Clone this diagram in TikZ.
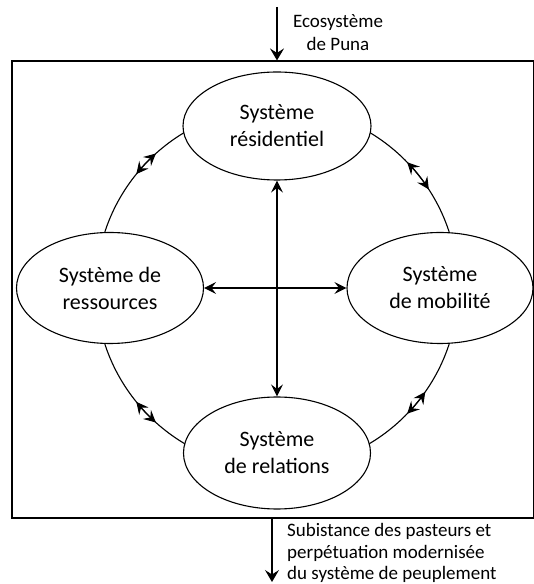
\documentclass[tikz,border=0pt]{standalone}
\usepackage{fontspec}
\setmainfont{Carlito}
\usetikzlibrary{arrows.meta,shapes.geometric,calc}
\tikzset{
  sys/.style={ellipse, draw, fill=white, line width=1.1pt, inner sep=0pt,
    align=center, font=\fontsize{22}{27}\selectfont},
  tip/.style={-{Stealth[length=12pt,width=14pt,inset=4.5pt]}},
  dtip/.style={{Stealth[length=12pt,width=12pt,inset=4.5pt]}-{Stealth[length=12pt,width=12pt,inset=4.5pt]}},
  lbl/.style={font=\fontsize{19}{23}\selectfont, inner sep=0pt},
}
\begin{document}
\begin{tikzpicture}[x=1pt,y=1pt]
\useasboundingbox (0,0) rectangle (534,584);
\node[draw, line width=1.1pt, minimum width=522pt, minimum height=457pt, inner sep=0pt] (frame) at (273,294.5) {};
% circle
\coordinate (c) at (277,296);
\draw[line width=1.1pt] (c) circle (181);
\foreach \a/\b in {132/141, 33/44, 219/228, 316/325}{
  \draw[dtip, line width=1.1pt] ($(c)+(\a:181)$) arc (\a:\b:181);
}
\node[sys, minimum width=188pt, minimum height=108pt] (res) at (277,458) {Système\\résidentiel};
\node[sys, minimum width=187pt, minimum height=111pt] (ress) at (110,296) {Système de\\ressources};
\node[sys, minimum width=186pt, minimum height=111pt] (mob) at (440,296) {Système\\de mobilité};
\node[sys, minimum width=187pt, minimum height=112pt] (rel) at (277,131) {Système\\de relations};
\draw[dtip, line width=1.1pt] (res) -- (rel);
\draw[dtip, line width=1.1pt] (ress) -- (mob);
% top input
\coordinate (inTop) at (277,577);
\draw[tip, line width=1.1pt] (inTop) -- (inTop |- frame.north);
\node[lbl, align=center] (eco) at (338,551) {Ecosystème\\de Puna};
% bottom output
\coordinate (outBot) at (272,2);
\draw[tip, line width=1.1pt] (outBot |- frame.south) -- (outBot);
\node[lbl, align=left, anchor=west, font=\fontsize{19}{21.5}\selectfont] (sub) at (287,31) {Subistance des pasteurs et\\perpétuation modernisée\\du système de peuplement};
\end{tikzpicture}
\end{document}
